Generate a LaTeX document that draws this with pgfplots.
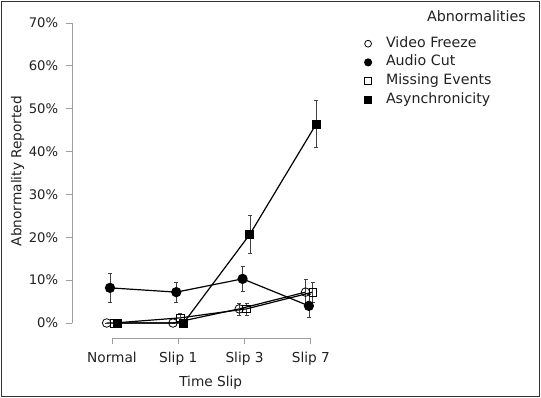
\documentclass[border=0pt]{standalone}
\usepackage{fontspec}
\setmainfont{DejaVu Sans}
\usepackage{pgfplots}
\pgfplotsset{compat=1.18}
\definecolor{axgray}{gray}{0.62}
\definecolor{txt}{gray}{0.13}
\begin{document}
\fontsize{14bp}{16bp}\selectfont
\begin{tikzpicture}
\begin{axis}[
  at={(0,0)}, anchor=south west,
  scale only axis, width=272bp, height=315bp,
  xmin=-0.603, xmax=3.5, ymin=-3.5, ymax=70,
  axis line style={draw=none},
  xtick pos=bottom, ytick pos=left,
  tick align=outside, major tick length=6bp,
  tick style={axgray, line width=0.8bp},
  xtick={0,1,2,3}, xticklabels={Normal,Slip 1,Slip 3,Slip 7},
  ytick={0,10,...,70},
  yticklabels={0\%,10\%,20\%,30\%,40\%,50\%,60\%,70\%},
  yticklabel style={txt, font=\fontsize{13.2bp}{15bp}\selectfont, xshift=-3bp},
  xticklabel style={txt, font=\fontsize{13.7bp}{15bp}\selectfont, yshift=-3bp},
  xlabel={Time Slip}, ylabel={Abnormality Reported},
  every axis x label/.style={at={(axis description cs:0.51,-0.143)}, anchor=center, txt, font=\fontsize{13.7bp}{15bp}\selectfont},
  every axis y label/.style={at={(axis description cs:-0.2,0.53)}, anchor=center, rotate=90, txt, font=\fontsize{13.7bp}{15bp}\selectfont},
  clip=false,
  error bars/y dir=both, error bars/y explicit,
  error bars/error bar style={black!75, line width=0.7bp},
  error bars/error mark options={rotate=90, mark size=2bp, black!75, line width=0.7bp},
  every axis plot/.append style={black, line width=1.2bp},
  legend image code/.code={\draw[#1] plot coordinates {(0bp,0bp)};},
  legend style={draw=none, fill=none, inner sep=0pt, column sep=14.5bp, row sep=5.7bp,
    at={(axis description cs:0,0)}, anchor=north west, xshift=292.5bp, yshift=301bp,
    nodes={inner sep=0pt, text height=10bp, text depth=3bp, txt, font=\fontsize{14.2bp}{16bp}\selectfont},
    cells={anchor=west}},
  legend image post style={mark size=3.4bp},
]
\addplot[mark=o, mark size=4.3bp, mark options={fill=white, draw=black, line width=0.8bp}]
  coordinates {(-0.08,0) +- (0,0) (0.92,0) +- (0,0) (1.92,3.3) +- (0,1.4) (2.92,7.2) +- (0,3.1)};
\addlegendentry{Video Freeze}
\addplot[mark=*, mark size=4.5bp, mark options={fill=black, draw=black}]
  coordinates {(-0.03,8.2) +- (0,3.3) (0.97,7.2) +- (0,2.4) (1.97,10.3) +- (0,3.0) (2.97,4.0) +- (0,2.6)};
\addlegendentry{Audio Cut}
\addplot[mark=square, mark size=3.9bp, mark options={fill=white, draw=black, line width=0.8bp}]
  coordinates {(0.03,0) +- (0,0) (1.03,1.2) +- (0,1.1) (2.03,3.3) +- (0,1.4) (3.03,7.2) +- (0,2.4)};
\addlegendentry{Missing Events}
\addplot[mark=square*, mark size=3.9bp, mark options={fill=black, draw=black}]
  coordinates {(0.08,0) +- (0,0) (1.08,0) +- (0,0) (2.08,20.7) +- (0,4.4) (3.08,46.4) +- (0,5.5)};
\addlegendentry{Asynchronicity}
\draw[axgray, line width=0.8bp] (axis cs:-0.603,0) -- (axis cs:-0.603,70);
\draw[axgray, line width=0.8bp] (axis cs:0,-3.5) -- (axis cs:3,-3.5);
\end{axis}
\node[anchor=mid east, inner sep=0pt, txt, font=\fontsize{14.3bp}{16bp}\selectfont] at (454bp,320bp) {Abnormalities};
\draw[black!80, line width=1bp] (-70.5bp,-58.5bp) rectangle (467.5bp,336.5bp);
\pgfresetboundingbox
\useasboundingbox (-72bp,-60bp) rectangle (469bp,338bp);
\end{tikzpicture}
\end{document}
